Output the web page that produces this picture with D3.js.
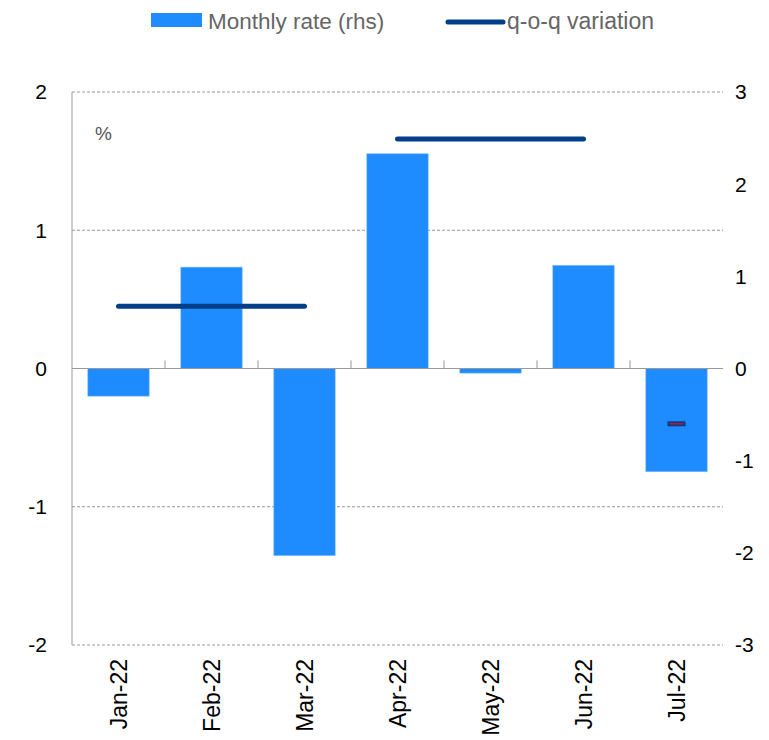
<!DOCTYPE html>
<meta charset="utf-8">
<style>
body { margin: 0; background: #fff; }
text { font-family: "Liberation Sans", Arial, sans-serif; }
.grid line { stroke: #999; stroke-dasharray: 3,2; }
</style>
<body>
<script src="https://d3js.org/d3.v7.min.js"></script>
<script>

// data
var months = ["Jan-22", "Feb-22", "Mar-22", "Apr-22", "May-22", "Jun-22", "Jul-22"];
var monthlyRate = [-0.30, 1.10, -2.03, 2.33, -0.05, 1.12, -1.12];   // rhs
var qoqQuarters = [["Jan-22", "Mar-22"], ["Apr-22", "Jun-22"]];
var qoqValues = [0.45, 1.66];                                       // lhs
var qoqLastMonth = "Jul-22";
var qoqLastValue = -0.40;
var leftTicks = [-2, -1, 0, 1, 2];
var rightTicks = [-3, -2, -1, 0, 1, 2, 3];

var W = 769, H = 740;
var margin = {top: 92, right: 46, bottom: 95, left: 72},
    width = W - margin.left - margin.right,
    height = H - margin.top - margin.bottom;

var svg = d3.select("body").append("svg")
    .attr("width", W)
    .attr("height", H);

var g = svg.append("g")
    .attr("transform", "translate(" + margin.left + "," + margin.top + ")");

var x = d3.scaleBand().domain(months).range([0, width]).paddingInner(0.34).paddingOuter(0.17);
var xb = d3.scaleBand().domain(months).range([0, width]);
var yL = d3.scaleLinear().domain([-2, 2]).range([height, 0]);
var yR = d3.scaleLinear().domain([-3, 3]).range([height, 0]);

// gridlines
g.append("g").attr("class", "grid")
  .selectAll("line")
  .data(leftTicks.filter(function(d) { return d !== 0; }))
  .enter().append("line")
    .attr("x1", 0).attr("x2", width)
    .attr("y1", function(d) { return yL(d); })
    .attr("y2", function(d) { return yL(d); });

// bars (rhs)
g.selectAll(".bar")
    .data(months)
  .enter().append("rect")
    .attr("class", "bar")
    .attr("x", function(d) { return x(d); })
    .attr("width", x.bandwidth())
    .attr("y", function(d, i) { return yR(Math.max(0, monthlyRate[i])); })
    .attr("height", function(d, i) { return Math.abs(yR(monthlyRate[i]) - yR(0)); })
    .style("fill", "#1E8CFF")
    .style("stroke", "#7fbcff")
    .style("stroke-width", 0.6);

// zero line + category ticks
g.append("line")
    .attr("x1", 0).attr("x2", width)
    .attr("y1", yL(0)).attr("y2", yL(0))
    .style("stroke", "#999").style("stroke-width", 1);
g.selectAll(".ctick")
    .data(months.slice(1))
  .enter().append("line")
    .attr("x1", function(d) { return xb(d); })
    .attr("x2", function(d) { return xb(d); })
    .attr("y1", yL(0)).attr("y2", yL(0) - 8)
    .style("stroke", "#999");

// left axis line
g.append("line")
    .attr("x1", 0).attr("x2", 0)
    .attr("y1", 0).attr("y2", height)
    .style("stroke", "#999");

// q-o-q lines
qoqQuarters.forEach(function(q, i) {
  g.append("line")
    .attr("x1", xb(q[0]) + xb.bandwidth() / 2)
    .attr("x2", xb(q[1]) + xb.bandwidth() / 2)
    .attr("y1", yL(qoqValues[i]))
    .attr("y2", yL(qoqValues[i]))
    .style("stroke", "#003F87")
    .style("stroke-width", 5)
    .style("stroke-linecap", "round");
});
// last month marker
var cx = xb(qoqLastMonth) + xb.bandwidth() / 2;
g.append("rect")
    .attr("x", cx - 9).attr("width", 18)
    .attr("y", yL(qoqLastValue) - 2.5).attr("height", 5)
    .style("fill", "#003F87");
g.append("line")
    .attr("x1", cx - 7).attr("x2", cx + 7)
    .attr("y1", yL(qoqLastValue)).attr("y2", yL(qoqLastValue))
    .style("stroke", "#d0102a").style("stroke-width", 1.5);

// left axis labels
g.selectAll(".ly")
    .data(leftTicks)
  .enter().append("text")
    .attr("x", -25).attr("y", function(d) { return yL(d); })
    .attr("dy", "0.35em")
    .attr("text-anchor", "end")
    .style("font-size", "21px")
    .style("fill", "#000")
    .text(function(d) { return d; });

// right axis labels
g.selectAll(".ry")
    .data(rightTicks)
  .enter().append("text")
    .attr("x", width + 12).attr("y", function(d) { return yR(d); })
    .attr("dy", "0.35em")
    .attr("text-anchor", "start")
    .style("font-size", "21px")
    .style("fill", "#000")
    .text(function(d) { return d; });

// month labels
g.selectAll(".mx")
    .data(months)
  .enter().append("text")
    .attr("transform", function(d) {
      return "translate(" + (xb(d) + xb.bandwidth() / 2 + 8) + "," + (height + 14) + ") rotate(-90)";
    })
    .attr("text-anchor", "end")
    .style("font-size", "23px")
    .style("fill", "#000")
    .text(function(d) { return d; });

// % unit
g.append("text")
    .attr("x", 23).attr("y", 48)
    .style("font-size", "19px")
    .style("fill", "#555")
    .text("%");

// legend
svg.append("rect")
    .attr("x", 151).attr("y", 13).attr("width", 51).attr("height", 14)
    .style("fill", "#1E8CFF");
svg.append("text")
    .attr("x", 208).attr("y", 29)
    .style("font-size", "22.5px").style("fill", "#666")
    .text("Monthly rate (rhs)");
svg.append("line")
    .attr("x1", 448).attr("x2", 503).attr("y1", 22).attr("y2", 22)
    .style("stroke", "#003F87").style("stroke-width", 5)
    .style("stroke-linecap", "round");
svg.append("text")
    .attr("x", 507).attr("y", 29)
    .style("font-size", "23px").style("fill", "#666")
    .text("q-o-q variation");

</script>
</body>
